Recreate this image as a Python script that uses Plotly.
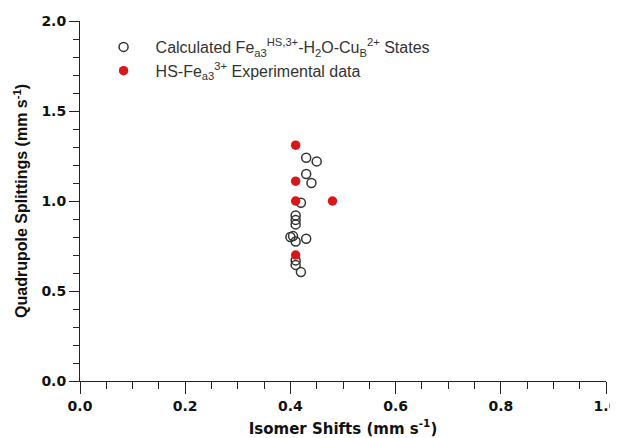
import plotly.graph_objects as go

calc_is = [0.43, 0.45, 0.43, 0.44, 0.42, 0.41, 0.41, 0.41, 0.40, 0.405, 0.41, 0.43, 0.41, 0.41, 0.42]
calc_qs = [1.24, 1.22, 1.15, 1.10, 0.99, 0.92, 0.895, 0.87, 0.80, 0.805, 0.775, 0.79, 0.67, 0.645, 0.605]

exp_is = [0.41, 0.41, 0.41, 0.48, 0.41]
exp_qs = [1.31, 1.11, 1.00, 1.00, 0.70]

fig = go.Figure()
fig.add_trace(go.Scatter(
    x=calc_is, y=calc_qs, mode="markers",
    name="Calculated Fe<sub>a3</sub><sup>HS,3+</sup>-H<sub>2</sub>O-Cu<sub>B</sub><sup>2+</sup> States",
    marker=dict(symbol="circle-open", size=9, color="#333333", line=dict(width=1.5, color="#333333")),
))
fig.add_trace(go.Scatter(
    x=exp_is, y=exp_qs, mode="markers",
    name="HS-Fe<sub>a3</sub><sup>3+</sup> Experimental data",
    marker=dict(symbol="circle", size=9.5, color="#d81818"),
))

tickfont = dict(family="DejaVu Sans", size=14, color="#111111", weight="bold")
fig.update_layout(
    width=610, height=430,
    margin=dict(l=72, r=12, t=13, b=57),
    plot_bgcolor="white", paper_bgcolor="white",
    showlegend=True,
    legend=dict(x=0.022, y=0.975, xanchor="left", yanchor="top",
                font=dict(family="Liberation Sans", size=16, color="#333333"),
                bgcolor="rgba(0,0,0,0)", tracegroupgap=0, itemwidth=54),
    xaxis=dict(range=[0, 1], dtick=0.2, tickformat=".1f", showline=True, linecolor="#222",
               linewidth=1, ticks="outside", ticklen=12, tickcolor="#222", showgrid=False,
               zeroline=False, tickfont=tickfont, automargin=False, ticklabeloverflow="allow",
               minor=dict(dtick=0.05, ticks="outside", ticklen=7, tickcolor="#222", showgrid=False),
               title=dict(text="<b>Isomer Shifts (mm s<sup>-1</sup>)</b>",
                          font=dict(family="DejaVu Sans", size=15, color="#111"), standoff=10)),
    yaxis=dict(range=[0, 2], dtick=0.5, tickformat=".1f", showline=True, linecolor="#222",
               linewidth=1, ticks="outside", ticklen=10, tickcolor="#222", showgrid=False,
               zeroline=False, tickfont=tickfont, automargin=False,
               minor=dict(dtick=0.1, ticks="outside", ticklen=6, tickcolor="#222", showgrid=False),
               title=dict(text="<b>Quadrupole Splittings (mm s<sup>-1</sup>)</b>",
                          font=dict(family="Liberation Sans", size=16, color="#111"), standoff=9)),
)
fig.write_html("out.html")
